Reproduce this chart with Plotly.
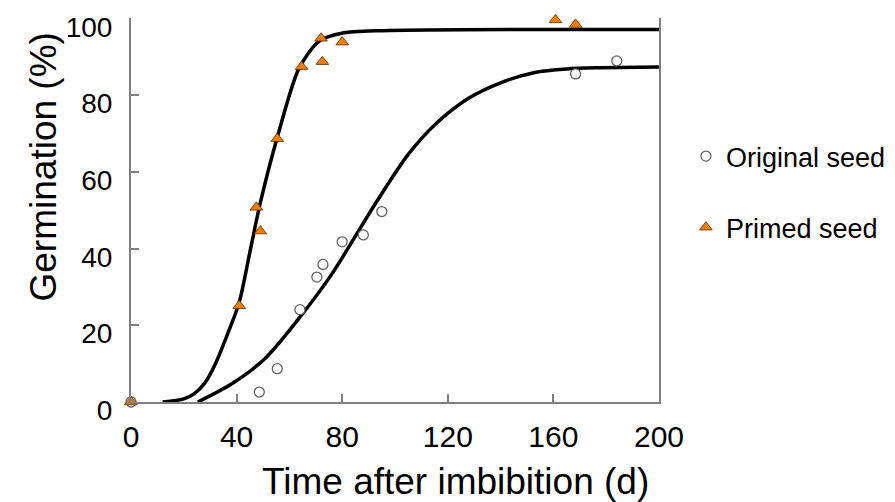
import plotly.graph_objects as go

# observed germination, original seed
orig_day = [0, 48.6, 55.4, 64, 70.4, 72.7, 80, 88, 95, 168.4, 184]
orig_pct = [0, 2.6, 8.7, 24.1, 32.6, 35.9, 41.8, 43.6, 49.7, 85.6, 89]

# observed germination, primed seed
primed_day = [0, 41, 47.5, 49, 55.4, 64.6, 72, 72.5, 80, 160.8, 168.4]
primed_pct = [0, 25.1, 50.8, 44.6, 68.7, 87.5, 94.9, 88.8, 93.9, 99.7, 98.5]

# fitted curves
fit_orig_day = [25.3, 38.5, 51, 63.6, 76, 92.6, 105, 115, 127.7, 140, 153, 165, 176.6, 200]
fit_orig_pct = [0, 4.9, 11.5, 21.8, 33.3, 51.8, 64.6, 72.3, 79.2, 83.3, 86, 86.9, 87.2, 87.4]

fit_primed_day = [12, 20, 24, 28, 32, 37.3, 41, 45, 49, 55.4, 63.6, 71.2, 79.8, 95, 200]
fit_primed_pct = [0, 0.8, 2.2, 5, 10, 19, 26, 39, 52, 69, 87, 94.1, 96.2, 96.9, 97.2]

x_ticks = [0, 40, 80, 120, 160, 200]
y_ticks = [0, 20, 40, 60, 80, 100]

FONT = "Liberation Sans, Arial, sans-serif"

fig = go.Figure()

fig.add_trace(go.Scatter(x=fit_primed_day, y=fit_primed_pct, mode="lines",
                         line=dict(color="black", width=3.5, shape="spline", smoothing=0.8),
                         showlegend=False, hoverinfo="skip"))
fig.add_trace(go.Scatter(x=fit_orig_day, y=fit_orig_pct, mode="lines",
                         line=dict(color="black", width=3.5, shape="spline", smoothing=0.8),
                         showlegend=False, hoverinfo="skip"))

fig.add_trace(go.Scatter(x=orig_day, y=orig_pct, mode="markers",
                         name="Original seed", legendgroup="a",
                         marker=dict(symbol="circle", size=10, color="white",
                                     line=dict(color="#606060", width=1.3)),
                         cliponaxis=False))
fig.add_trace(go.Scatter(x=primed_day, y=primed_pct, mode="markers",
                         name="Primed seed", legendgroup="b",
                         marker=dict(symbol="triangle-up", size=11, color="#F07C00",
                                     line=dict(color="#5a3000", width=0.8)),
                         cliponaxis=False))

fig.update_xaxes(range=[0, 200], tickvals=x_ticks, ticks="inside", ticklen=8,
                 tickcolor="#808080", tickwidth=1.5, showline=True, linecolor="#808080",
                 linewidth=2, showgrid=False, zeroline=False,
                 tickfont=dict(family=FONT, size=30, color="black"),
                 ticklabelstandoff=7)
fig.update_yaxes(range=[0, 100.2], tickvals=y_ticks, ticks="inside", ticklen=8,
                 tickcolor="#808080", tickwidth=1.5, showline=True, linecolor="#808080",
                 linewidth=2, mirror=True, showgrid=False, zeroline=False,
                 tickfont=dict(family=FONT, size=28, color="black"),
                 ticklabelstandoff=11, ticklabelshift=8, ticklabeloverflow="allow")

fig.add_annotation(text="Time after imbibition (d)", xref="paper", yref="paper",
                   x=0.615, y=-0.208, xanchor="center", yanchor="middle", showarrow=False,
                   font=dict(family=FONT, size=37, color="black"))
fig.add_annotation(text="Germination (%)", xref="paper", yref="paper",
                   x=-0.165, y=0.613, xanchor="center", yanchor="middle",
                   showarrow=False, textangle=-90,
                   font=dict(family=FONT, size=37, color="black"))

# page has an 8px body margin, so the figure is shrunk and shifted to compensate
fig.update_layout(
    width=887, height=494,
    margin=dict(l=123, r=233, t=4, b=100),
    plot_bgcolor="white", paper_bgcolor="white",
    legend=dict(x=1.051, y=0.703, xanchor="left", yanchor="top",
                font=dict(family=FONT, size=27, color="black"),
                tracegroupgap=33, bgcolor="rgba(0,0,0,0)"),
)

fig.write_html("out.html")
